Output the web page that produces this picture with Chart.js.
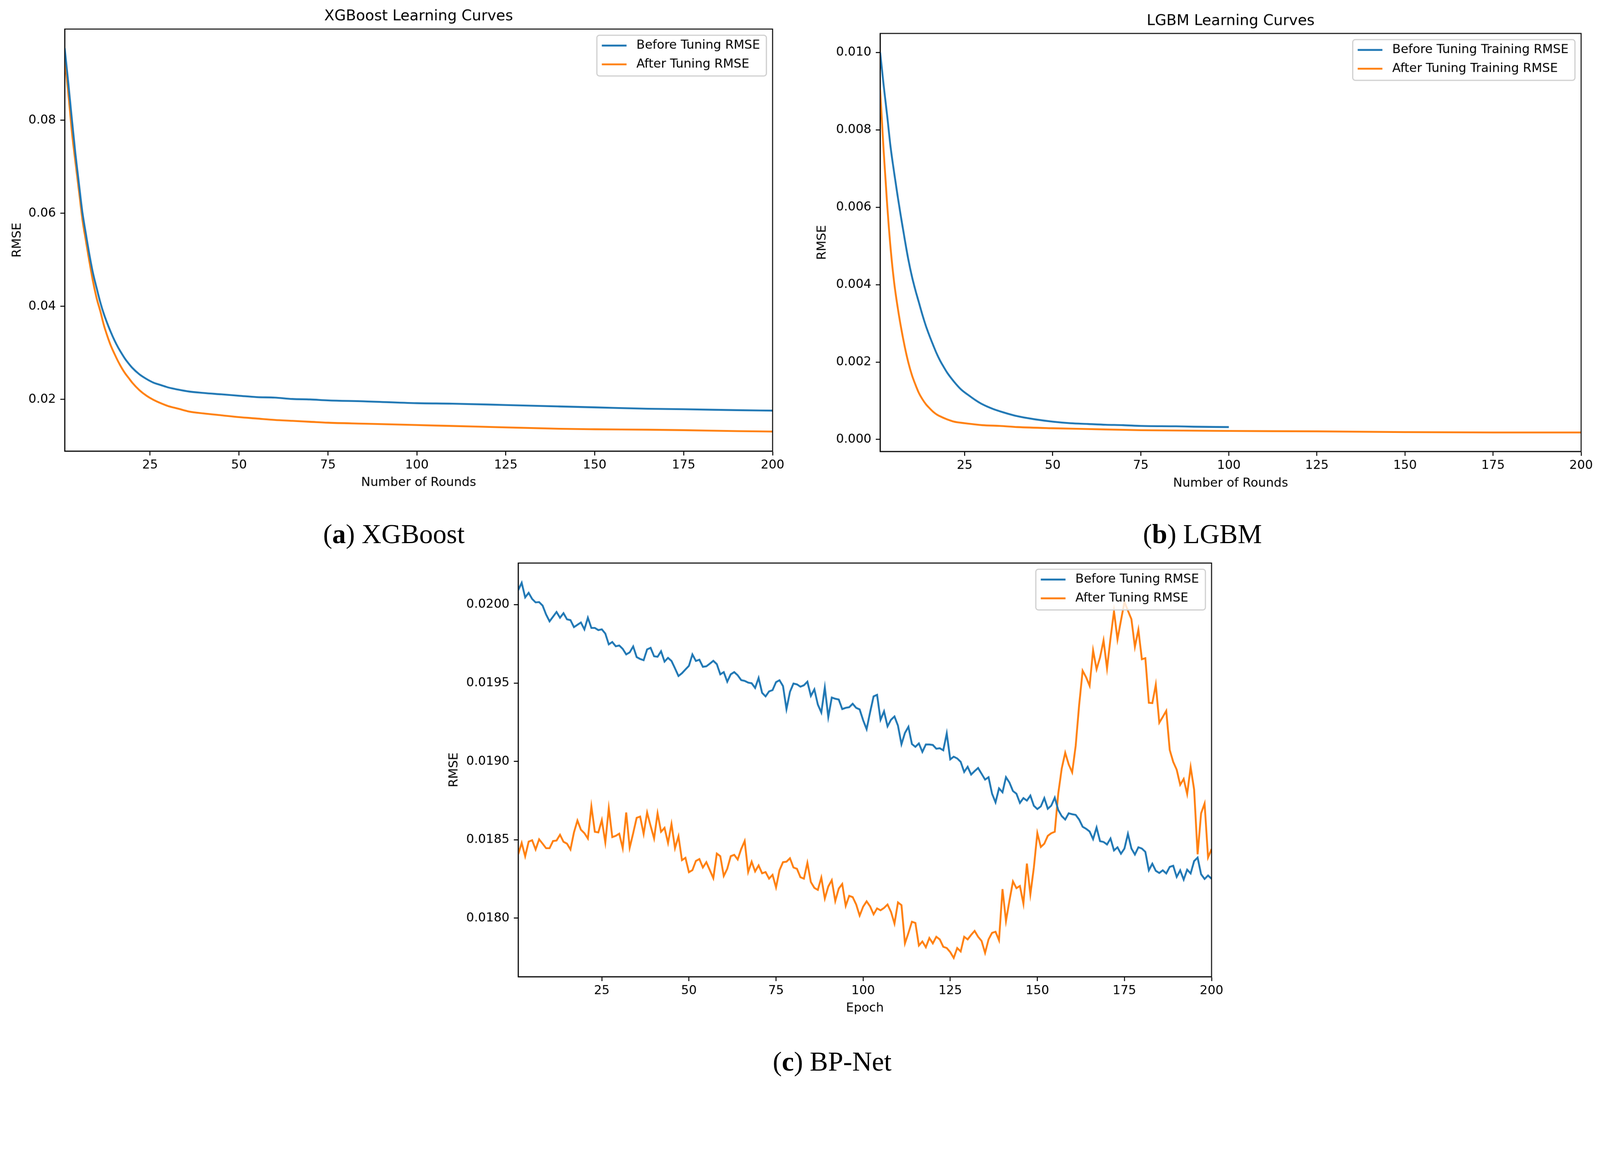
<!DOCTYPE html>
<html>
<head>
<meta charset="utf-8">
<title>Learning curves</title>
<script src="https://cdn.jsdelivr.net/npm/chart.js@4.4.1/dist/chart.umd.min.js"></script>
<style>
  html, body { margin: 0; padding: 0; background: #fff; overflow: hidden; }
  #page { width: 4403px; height: 2979px; position: absolute; left: 0; top: 0; transform-origin: 0 0; }
  canvas { position: absolute; }
  .cap {
    position: absolute;
    font-family: "Liberation Serif", serif;
    font-size: 75px;
    color: #000;
    white-space: nowrap;
    transform: translate(-50%, -50%);
  }
</style>
</head>
<body>
<div id="page">
<canvas id="xgb" width="2180" height="1380" style="left:0px;top:0px;width:2180px;height:1380px"></canvas>
<canvas id="lgbm" width="2223" height="1380" style="left:2180px;top:0px;width:2223px;height:1380px"></canvas>
<canvas id="bp" width="2300" height="1330" style="left:1180px;top:1500px;width:2300px;height:1330px"></canvas>
<div class="cap" style="left:1084px;top:1469px">(<b>a</b>) XGBoost</div>
<div class="cap" style="left:3309px;top:1469px">(<b>b</b>) LGBM</div>
<div class="cap" style="left:2290px;top:2920px">(<b>c</b>) BP-Net</div>
</div>

<script>
// fit the 4403x2979 layout to whatever the window really is
const page = document.getElementById('page');
const fit = window.innerWidth / 4403;
if (Math.abs(fit - 1) > 0.002) page.style.transform = 'scale(' + fit + ')';

// ---- XGBoost (a) ----
const xgbRounds = [1,2,3,4,5,6,7,8,9,10,11,12,13,14,15,16,17,18,19,20,22,24,26,28,30,33,36,40,45,50,55,60,65,70,75,85,100,110,125,140,150,165,175,190,200];
const xgbBefore = [0.0955,0.0881,0.0804,0.0729,0.0664,0.0601,0.0554,0.0509,0.0470,0.0439,0.0409,0.0384,0.0363,0.0344,0.0327,0.0312,0.0299,0.0287,0.0277,0.0268,
  0.0254,0.0244,0.0236,0.0231,0.0226,0.0221,0.0217,0.0214,0.0211,0.0208,0.0205,0.0204,0.0201,0.0200,0.0198,0.0196,0.0192,0.0191,0.0188,0.0185,0.0183,0.0180,0.0179,0.0177,0.0176];
const xgbAfter = [0.0935,0.0860,0.0777,0.0711,0.0649,0.0586,0.0539,0.0494,0.0452,0.0417,0.0390,0.0360,0.0336,0.0315,0.0298,0.0282,0.0268,0.0256,0.0246,0.0236,
  0.0220,0.0208,0.0199,0.0192,0.0186,0.0180,0.0174,0.0170,0.0166,0.0162,0.0159,0.0156,0.0154,0.0152,0.0150,0.0148,0.0145,0.0143,0.0140,0.0137,0.0136,0.0135,0.0134,0.0132,0.0131];
const xgbYTicks = [0.02, 0.04, 0.06, 0.08];

// ---- LGBM (b) ----
const lgbBeforeRounds = [1,2,3,4,5,6,7,8,9,10,11,12,13,14,15,16,17,18,19,20,22,24,26,28,30,33,36,40,45,50,55,60,65,70,75,85,90,100];
const lgbBefore = [0.01000,0.00915,0.00836,0.00753,0.00688,0.00627,0.00570,0.00516,0.00465,0.00422,0.00386,0.00354,0.00322,0.00293,0.00268,0.00245,0.00223,0.00204,0.00188,0.00173,
  0.00149,0.00129,0.00115,0.00102,0.00091,0.00079,0.00070,0.00060,0.00052,0.00046,0.00042,0.00040,0.00038,0.00037,0.00035,0.00034,0.00033,0.00032];
const lgbAfterRounds = [1,2,3,4,5,6,7,8,9,10,11,12,13,14,15,16,17,18,20,22,25,30,35,40,50,60,75,100,125,150,175,200];
const lgbAfter = [0.00904,0.00745,0.00606,0.00491,0.00404,0.00340,0.00286,0.00239,0.00199,0.00167,0.00142,0.00120,0.00104,0.00091,0.00081,0.00072,0.00065,0.00060,
  0.00052,0.00046,0.00042,0.00037,0.00035,0.00032,0.00029,0.00027,0.00024,0.00022,0.00021,0.00019,0.00018,0.00018];
const lgbYTicks = [0.000, 0.002, 0.004, 0.006, 0.008, 0.010];

// ---- BP-Net (c), one value per epoch 1..200 ----
const bpBefore = [
  0.020093,0.020140,0.020047,0.020076,0.020037,0.020015,0.020017,0.019995,0.019938,0.019894,
  0.019924,0.019954,0.019917,0.019946,0.019907,0.019902,0.019857,0.019872,0.019887,0.019843,
  0.019917,0.019852,0.019852,0.019838,0.019843,0.019816,0.019747,0.019762,0.019735,0.019740,
  0.019718,0.019683,0.019696,0.019734,0.019666,0.019654,0.019646,0.019715,0.019725,0.019671,
  0.019668,0.019703,0.019637,0.019661,0.019641,0.019594,0.019545,0.019563,0.019587,0.019610,
  0.019683,0.019641,0.019649,0.019604,0.019607,0.019624,0.019642,0.019621,0.019556,0.019570,
  0.019509,0.019556,0.019570,0.019550,0.019519,0.019514,0.019503,0.019499,0.019469,0.019533,
  0.019438,0.019415,0.019447,0.019455,0.019506,0.019518,0.019481,0.019334,0.019444,0.019497,
  0.019492,0.019477,0.019486,0.019509,0.019418,0.019460,0.019363,0.019312,0.019472,0.019283,
  0.019408,0.019400,0.019395,0.019334,0.019342,0.019346,0.019368,0.019342,0.019332,0.019263,
  0.019206,0.019314,0.019415,0.019425,0.019266,0.019320,0.019224,0.019266,0.019287,0.019228,
  0.019110,0.019182,0.019221,0.019111,0.019093,0.019115,0.019061,0.019108,0.019108,0.019105,
  0.019081,0.019084,0.019071,0.019179,0.019013,0.019030,0.019019,0.018997,0.018933,0.018966,
  0.018916,0.018938,0.018958,0.018921,0.018884,0.018899,0.018794,0.018739,0.018828,0.018803,
  0.018899,0.018865,0.018811,0.018794,0.018735,0.018766,0.018750,0.018782,0.018717,0.018696,
  0.018713,0.018766,0.018698,0.018718,0.018769,0.018690,0.018651,0.018629,0.018669,0.018663,
  0.018659,0.018629,0.018583,0.018570,0.018553,0.018504,0.018578,0.018491,0.018486,0.018470,
  0.018508,0.018432,0.018452,0.018411,0.018444,0.018538,0.018444,0.018406,0.018452,0.018444,
  0.018423,0.018305,0.018347,0.018302,0.018288,0.018305,0.018285,0.018327,0.018334,0.018263,
  0.018305,0.018246,0.018309,0.018285,0.018364,0.018386,0.018280,0.018250,0.018272,0.018251
];
const bpAfter = [
  0.018407,0.018480,0.018394,0.018488,0.018497,0.018438,0.018503,0.018475,0.018446,0.018446,
  0.018492,0.018495,0.018532,0.018487,0.018475,0.018438,0.018547,0.018623,0.018564,0.018542,
  0.018508,0.018714,0.018551,0.018547,0.018626,0.018483,0.018702,0.018517,0.018525,0.018539,
  0.018446,0.018674,0.018449,0.018542,0.018640,0.018648,0.018537,0.018674,0.018589,0.018508,
  0.018669,0.018551,0.018576,0.018480,0.018601,0.018446,0.018522,0.018370,0.018385,0.018293,
  0.018306,0.018365,0.018377,0.018323,0.018357,0.018306,0.018255,0.018412,0.018395,0.018269,
  0.018315,0.018395,0.018404,0.018374,0.018441,0.018492,0.018294,0.018360,0.018298,0.018336,
  0.018286,0.018294,0.018252,0.018276,0.018196,0.018306,0.018357,0.018360,0.018382,0.018323,
  0.018315,0.018261,0.018252,0.018353,0.018230,0.018193,0.018180,0.018259,0.018125,0.018202,
  0.018242,0.018109,0.018188,0.018218,0.018078,0.018142,0.018134,0.018087,0.018016,0.018073,
  0.018107,0.018075,0.018024,0.018062,0.018050,0.018065,0.018087,0.018040,0.017965,0.018100,
  0.018083,0.017839,0.017905,0.017977,0.017969,0.017825,0.017851,0.017814,0.017873,0.017839,
  0.017881,0.017864,0.017817,0.017809,0.017783,0.017746,0.017809,0.017787,0.017881,0.017864,
  0.017893,0.017918,0.017881,0.017854,0.017778,0.017864,0.017906,0.017913,0.017859,0.018185,
  0.017982,0.018112,0.018234,0.018191,0.018205,0.018092,0.018348,0.018151,0.018323,0.018542,
  0.018454,0.018475,0.018525,0.018542,0.018551,0.018795,0.018955,0.019056,0.018981,0.018930,
  0.019099,0.019360,0.019579,0.019537,0.019483,0.019709,0.019588,0.019664,0.019773,0.019593,
  0.019785,0.019959,0.019778,0.019900,0.020018,0.019962,0.019908,0.019731,0.019841,0.019652,
  0.019659,0.019374,0.019372,0.019490,0.019247,0.019284,0.019323,0.019073,0.018997,0.018947,
  0.018851,0.018888,0.018792,0.018964,0.018820,0.018407,0.018669,0.018731,0.018387,0.018441
];
const bpEpochs = bpBefore.map((_, i) => i + 1);
const bpYTicks = [0.0180, 0.0185, 0.0190, 0.0195, 0.0200];

const roundTicks = [25, 50, 75, 100, 125, 150, 175, 200];

const BLUE = '#1f77b4';
const ORANGE = '#ff7f0e';
const FONT = '"DejaVu Sans", sans-serif';

function pairs(xs, ys) {
  return xs.map((x, i) => ({x: x, y: ys[i]}));
}

// box around the plot, like matplotlib spines
const frame = {
  id: 'frame',
  afterDatasetsDraw(chart) {
    const {ctx, chartArea: a} = chart;
    ctx.save();
    ctx.strokeStyle = '#000';
    ctx.lineWidth = 2.7;
    ctx.strokeRect(a.left, a.top, a.right - a.left, a.bottom - a.top);
    ctx.restore();
  }
};

// legend in the upper right corner of the plot area
const cornerLegend = {
  id: 'cornerLegend',
  afterDraw(chart) {
    const {ctx, chartArea: a} = chart;
    const fs = 34, pad = 13.6, handle = 68, gap = 27.2;
    const sets = chart.data.datasets;
    ctx.save();
    ctx.font = fs + 'px ' + FONT;
    const tw = Math.max(...sets.map(d => ctx.measureText(d.label).width));
    const w = pad * 2 + handle + gap + tw + 4;
    const h = 112;
    const x = a.right - 17 - w;
    const y = a.top + 17;
    ctx.beginPath();
    ctx.roundRect(x, y, w, h, 7);
    ctx.fillStyle = 'rgba(255,255,255,0.8)';
    ctx.fill();
    ctx.strokeStyle = '#cccccc';
    ctx.lineWidth = 3;
    ctx.stroke();
    sets.forEach((d, i) => {
      const cy = y + 28.4 + i * 51.7;
      ctx.beginPath();
      ctx.moveTo(x + pad, cy);
      ctx.lineTo(x + pad + handle, cy);
      ctx.strokeStyle = d.borderColor;
      ctx.lineWidth = 5.1;
      ctx.stroke();
      ctx.fillStyle = '#000';
      ctx.textBaseline = 'middle';
      ctx.textAlign = 'left';
      ctx.fillText(d.label, x + pad + handle + gap, cy);
    });
    ctx.restore();
  }
};

function line(label, data, color, smooth) {
  const ds = {
    label: label,
    data: data,
    borderColor: color,
    backgroundColor: color,
    borderWidth: 5.1,
    pointRadius: 0,
    fill: false
  };
  if (smooth) ds.cubicInterpolationMode = 'monotone';
  else ds.tension = 0;
  return ds;
}

function makeChart(id, c) {
  return new Chart(document.getElementById(id), {
    type: 'line',
    data: {datasets: c.datasets},
    options: {
      responsive: false,
      animation: false,
      devicePixelRatio: 1,
      layout: {padding: {top: c.padTop, right: c.padRight, left: 0, bottom: 0}},
      plugins: {
        legend: {display: false},
        tooltip: {enabled: false},
        title: c.title ? {
          display: true,
          text: c.title,
          color: '#000',
          fullSize: false,
          font: {family: FONT, size: 40.8, weight: 'normal'},
          padding: c.titlePad
        } : {display: false}
      },
      scales: {
        x: {
          type: 'linear',
          min: 1,
          max: 200,
          afterBuildTicks: s => { s.ticks = roundTicks.map(v => ({value: v})); },
          afterFit: s => { s.height = c.xH; s.paddingLeft = 0; s.paddingRight = 0; },
          grid: {display: true, drawOnChartArea: false, drawTicks: true, tickLength: 12, tickWidth: 2.7, tickColor: '#000'},
          border: {display: true, color: '#000', width: 2.7},
          ticks: {color: '#000', padding: 7, maxRotation: 0, autoSkip: false, font: {family: FONT, size: 34},
            callback: v => String(v)},
          title: {display: true, text: c.xLabel, color: '#000', font: {family: FONT, size: 34},
            padding: {top: 0, bottom: c.xTitlePad}}
        },
        y: {
          type: 'linear',
          min: c.yMin,
          max: c.yMax,
          afterBuildTicks: s => { s.ticks = c.yTicks.map(v => ({value: v})); },
          afterFit: s => { s.width = c.yW; s.paddingTop = 0; s.paddingBottom = 0; },
          grid: {display: true, drawOnChartArea: false, drawTicks: true, tickLength: 12, tickWidth: 2.7, tickColor: '#000'},
          border: {display: true, color: '#000', width: 2.7},
          ticks: {color: '#000', padding: 12, autoSkip: false, font: {family: FONT, size: 34},
            callback: v => v.toFixed(c.decimals)},
          title: {display: true, text: 'RMSE', color: '#000', font: {family: FONT, size: 34},
            padding: {top: c.yTitlePad, bottom: 0}}
        }
      }
    },
    plugins: [frame, cornerLegend]
  });
}

makeChart('xgb', {
  title: 'XGBoost Learning Curves',
  titlePad: {top: 20.5, bottom: 10.5},
  padTop: 0, padRight: 54,
  xH: 139, xTitlePad: 31, yW: 178, yTitlePad: 27.6,
  xLabel: 'Number of Rounds',
  yMin: 0.0089, yMax: 0.0996, yTicks: xgbYTicks, decimals: 2,
  datasets: [
    line('Before Tuning RMSE', pairs(xgbRounds, xgbBefore), BLUE, true),
    line('After Tuning RMSE', pairs(xgbRounds, xgbAfter), ORANGE, true)
  ]
});

makeChart('lgbm', {
  title: 'LGBM Learning Curves',
  titlePad: {top: 34, bottom: 9},
  padTop: 0, padRight: 52,
  xH: 138, xTitlePad: 29.6, yW: 242, yTitlePad: 62.6,
  xLabel: 'Number of Rounds',
  yMin: -0.00031, yMax: 0.01049, yTicks: lgbYTicks, decimals: 3,
  datasets: [
    line('Before Tuning Training RMSE', pairs(lgbBeforeRounds, lgbBefore), BLUE, true),
    line('After Tuning Training RMSE', pairs(lgbAfterRounds, lgbAfter), ORANGE, true)
  ]
});

makeChart('bp', {
  title: null,
  padTop: 49, padRight: 146,
  xH: 143, xTitlePad: 35.6, yW: 246, yTitlePad: 49.6,
  xLabel: 'Epoch',
  yMin: 0.017626, yMax: 0.020266, yTicks: bpYTicks, decimals: 4,
  datasets: [
    line('Before Tuning RMSE', pairs(bpEpochs, bpBefore), BLUE, false),
    line('After Tuning RMSE', pairs(bpEpochs, bpAfter), ORANGE, false)
  ]
});
</script>
</body>
</html>
